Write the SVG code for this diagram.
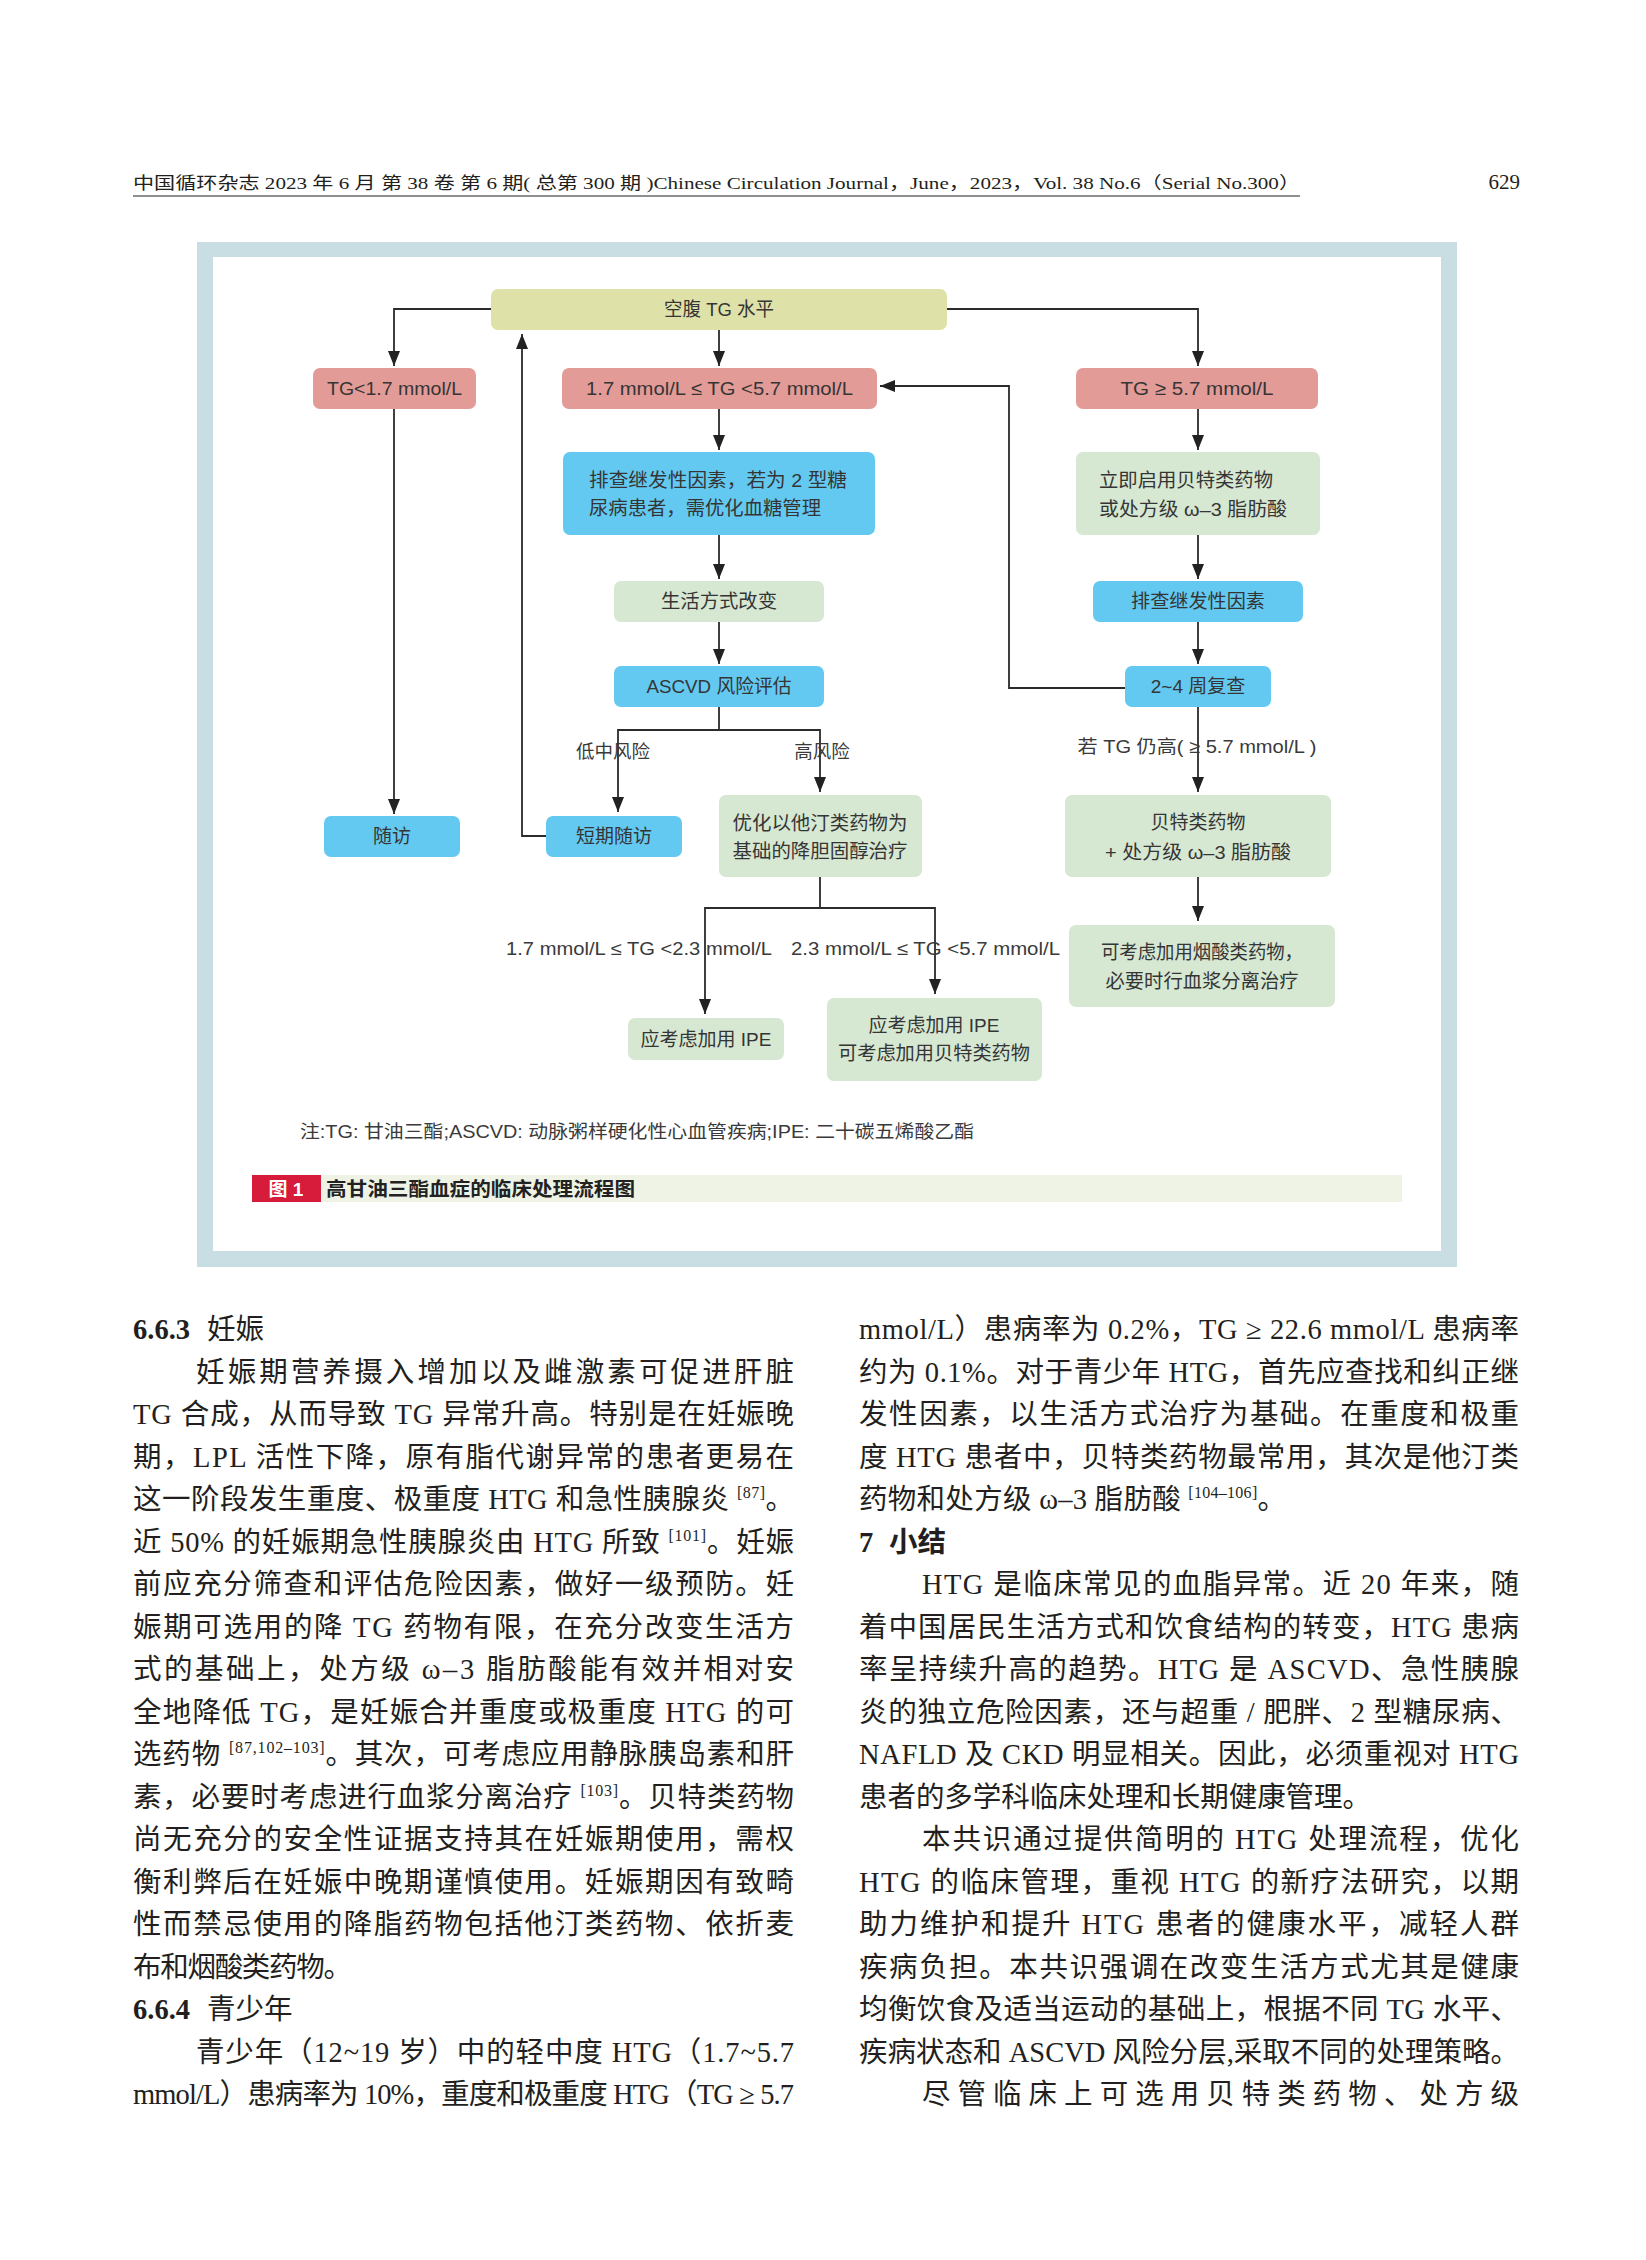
<svg xmlns="http://www.w3.org/2000/svg" width="1646" height="2260" viewBox="0 0 1646 2260">
<style>
.pg{fill:#231f20;font-family:"Liberation Serif","Noto Sans CJK SC",serif}
.hd{font-size:17px}
.bd{font-size:28.5px}
.bb{font-weight:bold}
.sup{font-size:16px}
.nt{fill:#353535;font-family:"Liberation Sans","Noto Sans CJK SC",sans-serif;font-size:19px}
.c{text-anchor:middle}
.lb{fill:#3a3a3a;font-family:"Liberation Sans","Noto Sans CJK SC",sans-serif;font-size:18.5px}
.yel{fill:#dfe2a8}
.red{fill:#e39b98}
.blu{fill:#63c9f1}
.grn{fill:#d6e7d2}
.ln{fill:none;stroke:#2b2b2b;stroke-width:1.8}
</style>
<defs>
<marker id="ah" viewBox="0 0 15 12" refX="15" refY="6" markerWidth="15" markerHeight="12" markerUnits="userSpaceOnUse" orient="auto">
<path d="M0,0 L15,6 L0,12 z" fill="#222"/>
</marker>
</defs>
<rect width="1646" height="2260" fill="#ffffff"/>

<!-- page header -->
<g id="header">
<text class="pg hd" x="133" y="189" textLength="1167" lengthAdjust="spacingAndGlyphs">中国循环杂志 2023 年 6 月 第 38 卷 第 6 期( 总第 300 期 )Chinese Circulation Journal，June，2023，Vol. 38 No.6（Serial No.300）</text>
<line x1="133" y1="196" x2="1300" y2="196" stroke="#231f20" stroke-width="1.2"/>
<text class="pg" x="1520" y="189" font-size="21" text-anchor="end">629</text>
</g>

<!-- figure frame -->
<g id="frame">
<rect x="197" y="242" width="1260" height="1025" fill="#c8dee2"/>
<rect x="213" y="257" width="1228" height="994" fill="#ffffff"/>
</g>

<!-- connectors -->
<g id="connectors">
<path class="ln" d="M491,309 H394 V366" marker-end="url(#ah)"/>
<path class="ln" d="M719,330 V366" marker-end="url(#ah)"/>
<path class="ln" d="M947,309 H1198 V366" marker-end="url(#ah)"/>
<path class="ln" d="M394,409 V814" marker-end="url(#ah)"/>
<path class="ln" d="M546,836 H522 V334" marker-end="url(#ah)"/>
<path class="ln" d="M719,409 V450" marker-end="url(#ah)"/>
<path class="ln" d="M719,535 V579" marker-end="url(#ah)"/>
<path class="ln" d="M719,622 V664" marker-end="url(#ah)"/>
<path class="ln" d="M719,707 V730 H618 V812" marker-end="url(#ah)"/>
<path class="ln" d="M719,730 H820 V792" marker-end="url(#ah)"/>
<path class="ln" d="M820,877 V908 H705 V1014" marker-end="url(#ah)"/>
<path class="ln" d="M820,908 H935 V994" marker-end="url(#ah)"/>
<path class="ln" d="M1198,409 V450" marker-end="url(#ah)"/>
<path class="ln" d="M1198,535 V579" marker-end="url(#ah)"/>
<path class="ln" d="M1198,622 V664" marker-end="url(#ah)"/>
<path class="ln" d="M1125,688 H1009 V386 H880" marker-end="url(#ah)"/>
<path class="ln" d="M1198,707 V792" marker-end="url(#ah)"/>
<path class="ln" d="M1198,877 V921" marker-end="url(#ah)"/>
<text class="lb c" x="613" y="758">低中风险</text>
<text class="lb c" x="822" y="758">高风险</text>
<text class="lb c" x="1197" y="753" textLength="239" lengthAdjust="spacingAndGlyphs">若 TG 仍高( ≥ 5.7 mmol/L )</text>
<text class="lb" x="506" y="955" textLength="266" lengthAdjust="spacingAndGlyphs">1.7 mmol/L ≤ TG &lt;2.3 mmol/L</text>
<text class="lb" x="791" y="955" textLength="269" lengthAdjust="spacingAndGlyphs">2.3 mmol/L ≤ TG &lt;5.7 mmol/L</text>
</g>

<!-- nodes -->
<g id="n-top"><rect class="yel" x="491" y="289" width="456" height="41" rx="7"/><text class="nt c" x="719" y="316" textLength="110" lengthAdjust="spacingAndGlyphs">空腹 TG 水平</text></g>
<g id="n-low"><rect class="red" x="313" y="368" width="163" height="41" rx="7"/><text class="nt c" x="394.5" y="395" textLength="135" lengthAdjust="spacingAndGlyphs">TG&lt;1.7 mmol/L</text></g>
<g id="n-mid"><rect class="red" x="562" y="368" width="315" height="41" rx="7"/><text class="nt c" x="719.5" y="395" textLength="267" lengthAdjust="spacingAndGlyphs">1.7 mmol/L ≤ TG &lt;5.7 mmol/L</text></g>
<g id="n-high"><rect class="red" x="1076" y="368" width="242" height="41" rx="7"/><text class="nt c" x="1197" y="395" textLength="153" lengthAdjust="spacingAndGlyphs">TG ≥ 5.7 mmol/L</text></g>
<g id="n-sec1"><rect class="blu" x="563" y="452" width="312" height="83" rx="7"/><text class="nt" x="589" y="487" textLength="258" lengthAdjust="spacingAndGlyphs">排查继发性因素，若为 2 型糖</text><text class="nt" x="589" y="515" textLength="232" lengthAdjust="spacingAndGlyphs">尿病患者，需优化血糖管理</text></g>
<g id="n-life"><rect class="grn" x="614" y="581" width="210" height="41" rx="7"/><text class="nt c" x="719" y="608" textLength="116" lengthAdjust="spacingAndGlyphs">生活方式改变</text></g>
<g id="n-ascvd"><rect class="blu" x="614" y="666" width="210" height="41" rx="7"/><text class="nt c" x="719" y="693" textLength="145" lengthAdjust="spacingAndGlyphs">ASCVD 风险评估</text></g>
<g id="n-fib1"><rect class="grn" x="1076" y="452" width="244" height="83" rx="7"/><text class="nt" x="1099" y="487" textLength="174" lengthAdjust="spacingAndGlyphs">立即启用贝特类药物</text><text class="nt" x="1099" y="516" textLength="188" lengthAdjust="spacingAndGlyphs">或处方级 ω–3 脂肪酸</text></g>
<g id="n-sec2"><rect class="blu" x="1093" y="581" width="210" height="41" rx="7"/><text class="nt c" x="1198" y="608" textLength="134" lengthAdjust="spacingAndGlyphs">排查继发性因素</text></g>
<g id="n-recheck"><rect class="blu" x="1125" y="666" width="146" height="41" rx="7"/><text class="nt c" x="1198" y="693">2~4 周复查</text></g>
<g id="n-follow"><rect class="blu" x="324" y="816" width="136" height="41" rx="7"/><text class="nt c" x="392" y="843">随访</text></g>
<g id="n-short"><rect class="blu" x="546" y="816" width="136" height="41" rx="7"/><text class="nt c" x="614" y="843">短期随访</text></g>
<g id="n-statin"><rect class="grn" x="719" y="795" width="203" height="82" rx="7"/><text class="nt c" x="820" y="830" textLength="175" lengthAdjust="spacingAndGlyphs">优化以他汀类药物为</text><text class="nt c" x="820" y="858" textLength="175" lengthAdjust="spacingAndGlyphs">基础的降胆固醇治疗</text></g>
<g id="n-fib2"><rect class="grn" x="1065" y="795" width="266" height="82" rx="7"/><text class="nt c" x="1198" y="829">贝特类药物</text><text class="nt c" x="1198" y="859" textLength="186" lengthAdjust="spacingAndGlyphs">+ 处方级 ω–3 脂肪酸</text></g>
<g id="n-niacin"><rect class="grn" x="1069" y="925" width="266" height="82" rx="7"/><text class="nt c" x="1202" y="959" textLength="202" lengthAdjust="spacingAndGlyphs">可考虑加用烟酸类药物，</text><text class="nt c" x="1202" y="988" textLength="193" lengthAdjust="spacingAndGlyphs">必要时行血浆分离治疗</text></g>
<g id="n-ipe1"><rect class="grn" x="628" y="1018" width="156" height="42" rx="7"/><text class="nt c" x="706" y="1046">应考虑加用 IPE</text></g>
<g id="n-ipe2"><rect class="grn" x="827" y="998" width="215" height="83" rx="7"/><text class="nt c" x="934" y="1032">应考虑加用 IPE</text><text class="nt c" x="934" y="1060" textLength="192" lengthAdjust="spacingAndGlyphs">可考虑加用贝特类药物</text></g>

<!-- note and caption -->
<g id="note">
<text class="lb" x="300" y="1138" font-size="16.5" textLength="674" lengthAdjust="spacingAndGlyphs">注:TG: 甘油三酯;ASCVD: 动脉粥样硬化性心血管疾病;IPE: 二十碳五烯酸乙酯</text>
</g>
<g id="caption">
<rect x="252" y="1175" width="1150" height="27" fill="#eef3e5"/>
<rect x="252" y="1175" width="69" height="27" fill="#d71b3b"/>
<text x="286" y="1196" fill="#ffffff" font-family="Liberation Sans,Noto Sans CJK SC,sans-serif" font-size="19" font-weight="bold" text-anchor="middle">图 1</text>
<text x="326" y="1196" fill="#222" font-family="Noto Sans CJK SC,sans-serif" font-size="19.5" font-weight="bold" textLength="309" lengthAdjust="spacingAndGlyphs">高甘油三酯血症的临床处理流程图</text>
</g>

<!-- body column 1 -->
<g id="col1" class="pg bd">
<text x="133" y="1339"><tspan class="bb">6.6.3</tspan><tspan x="207">妊娠</tspan></text>
<text x="196" y="1381.5" textLength="598" lengthAdjust="spacing">妊娠期营养摄入增加以及雌激素可促进肝脏</text>
<text x="133" y="1424" textLength="661" lengthAdjust="spacing">TG 合成，从而导致 TG 异常升高。特别是在妊娠晚</text>
<text x="133" y="1466.5" textLength="661" lengthAdjust="spacing">期，LPL 活性下降，原有脂代谢异常的患者更易在</text>
<text x="133" y="1509" textLength="661" lengthAdjust="spacing">这一阶段发生重度、极重度 HTG 和急性胰腺炎 <tspan class="sup" dy="-11">[87]</tspan><tspan dy="11">。</tspan></text>
<text x="133" y="1551.5" textLength="661" lengthAdjust="spacing">近 50% 的妊娠期急性胰腺炎由 HTG 所致 <tspan class="sup" dy="-11">[101]</tspan><tspan dy="11">。妊娠</tspan></text>
<text x="133" y="1594" textLength="661" lengthAdjust="spacing">前应充分筛查和评估危险因素，做好一级预防。妊</text>
<text x="133" y="1636.5" textLength="661" lengthAdjust="spacing">娠期可选用的降 TG 药物有限，在充分改变生活方</text>
<text x="133" y="1679" textLength="661" lengthAdjust="spacing">式的基础上，处方级 ω–3 脂肪酸能有效并相对安</text>
<text x="133" y="1721.5" textLength="661" lengthAdjust="spacing">全地降低 TG，是妊娠合并重度或极重度 HTG 的可</text>
<text x="133" y="1764" textLength="661" lengthAdjust="spacing">选药物 <tspan class="sup" dy="-11">[87,102–103]</tspan><tspan dy="11">。其次，可考虑应用静脉胰岛素和肝</tspan></text>
<text x="133" y="1806.5" textLength="661" lengthAdjust="spacing">素，必要时考虑进行血浆分离治疗 <tspan class="sup" dy="-11">[103]</tspan><tspan dy="11">。贝特类药物</tspan></text>
<text x="133" y="1849" textLength="661" lengthAdjust="spacing">尚无充分的安全性证据支持其在妊娠期使用，需权</text>
<text x="133" y="1891.5" textLength="661" lengthAdjust="spacing">衡利弊后在妊娠中晚期谨慎使用。妊娠期因有致畸</text>
<text x="133" y="1934" textLength="661" lengthAdjust="spacing">性而禁忌使用的降脂药物包括他汀类药物、依折麦</text>
<text x="133" y="1976.5" textLength="219" lengthAdjust="spacing">布和烟酸类药物。</text>
<text x="133" y="2019"><tspan class="bb">6.6.4</tspan><tspan x="207">青少年</tspan></text>
<text x="196" y="2061.5" textLength="598" lengthAdjust="spacing">青少年（12~19 岁）中的轻中度 HTG（1.7~5.7</text>
<text x="133" y="2104" textLength="661" lengthAdjust="spacing">mmol/L）患病率为 10%，重度和极重度 HTG（TG ≥ 5.7</text>
</g>

<!-- body column 2 -->
<g id="col2" class="pg bd">
<text x="859" y="1339" textLength="660" lengthAdjust="spacing">mmol/L）患病率为 0.2%，TG ≥ 22.6 mmol/L 患病率</text>
<text x="859" y="1381.5" textLength="660" lengthAdjust="spacing">约为 0.1%。对于青少年 HTG，首先应查找和纠正继</text>
<text x="859" y="1424" textLength="660" lengthAdjust="spacing">发性因素，以生活方式治疗为基础。在重度和极重</text>
<text x="859" y="1466.5" textLength="660" lengthAdjust="spacing">度 HTG 患者中，贝特类药物最常用，其次是他汀类</text>
<text x="859" y="1509" textLength="427" lengthAdjust="spacing">药物和处方级 ω–3 脂肪酸 <tspan class="sup" dy="-11">[104–106]</tspan><tspan dy="11">。</tspan></text>
<text x="859" y="1551.5" class="bb">7<tspan x="889">小结</tspan></text>
<text x="922" y="1594" textLength="597" lengthAdjust="spacing">HTG 是临床常见的血脂异常。近 20 年来，随</text>
<text x="859" y="1636.5" textLength="660" lengthAdjust="spacing">着中国居民生活方式和饮食结构的转变，HTG 患病</text>
<text x="859" y="1679" textLength="660" lengthAdjust="spacing">率呈持续升高的趋势。HTG 是 ASCVD、急性胰腺</text>
<text x="859" y="1721.5" textLength="660" lengthAdjust="spacing">炎的独立危险因素，还与超重 / 肥胖、2 型糖尿病、</text>
<text x="859" y="1764" textLength="660" lengthAdjust="spacing">NAFLD 及 CKD 明显相关。因此，必须重视对 HTG</text>
<text x="859" y="1806.5" textLength="512" lengthAdjust="spacing">患者的多学科临床处理和长期健康管理。</text>
<text x="922" y="1849" textLength="597" lengthAdjust="spacing">本共识通过提供简明的 HTG 处理流程，优化</text>
<text x="859" y="1891.5" textLength="660" lengthAdjust="spacing">HTG 的临床管理，重视 HTG 的新疗法研究，以期</text>
<text x="859" y="1934" textLength="660" lengthAdjust="spacing">助力维护和提升 HTG 患者的健康水平，减轻人群</text>
<text x="859" y="1976.5" textLength="660" lengthAdjust="spacing">疾病负担。本共识强调在改变生活方式尤其是健康</text>
<text x="859" y="2019" textLength="660" lengthAdjust="spacing">均衡饮食及适当运动的基础上，根据不同 TG 水平、</text>
<text x="859" y="2061.5" textLength="660" lengthAdjust="spacing">疾病状态和 ASCVD 风险分层,采取不同的处理策略。</text>
<text x="922" y="2104" textLength="597" lengthAdjust="spacing">尽管临床上可选用贝特类药物、处方级</text>
</g>
</svg>
